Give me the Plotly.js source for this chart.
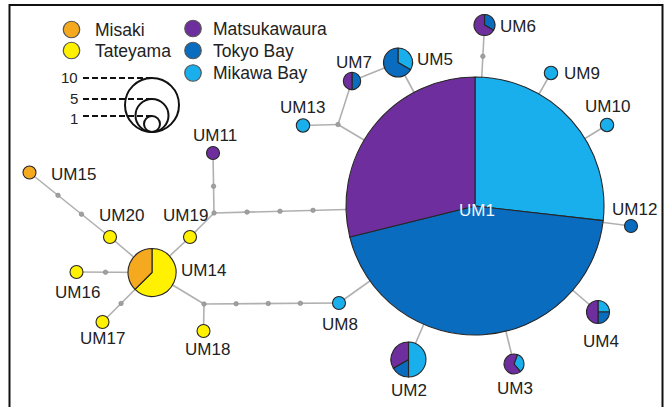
<!DOCTYPE html>
<html><head><meta charset="utf-8">
<script src="https://cdn.plot.ly/plotly-3.0.1.min.js"></script>
<style>html,body{margin:0;padding:0;background:#fff}#chart{width:672px;height:407px}</style>
</head><body><div id="chart"></div>
<script>
// ---------------- DATA ----------------
const populations = ['Mikawa Bay', 'Tokyo Bay', 'Matsukawaura', 'Tateyama', 'Misaki'];
const haplotypes = ['UM1','UM2','UM3','UM4','UM5','UM6','UM7','UM8','UM9','UM10',
                    'UM11','UM12','UM13','UM14','UM15','UM16','UM17','UM18','UM19','UM20'];
// individuals per haplotype for each population
const mikawaBay    = [26, 3, 1, 1, 1, 0, 0, 1, 1, 1, 0, 0, 1, 0, 0, 0, 0, 0, 0, 0];
const tokyoBay     = [43, 1, 0, 1, 2, 1, 1, 0, 0, 0, 0, 1, 0, 0, 0, 0, 0, 0, 0, 0];
const matsukawaura = [28, 2, 2, 2, 0, 2, 1, 0, 0, 0, 1, 0, 0, 0, 0, 0, 0, 0, 0, 0];
const tateyama     = [ 0, 0, 0, 0, 0, 0, 0, 0, 0, 0, 0, 0, 0, 5, 0, 1, 1, 1, 1, 1];
const misaki       = [ 0, 0, 0, 0, 0, 0, 0, 0, 0, 0, 0, 0, 0, 3, 1, 0, 0, 0, 0, 0];
// network edges (mv = median vectors) and number of mutation steps drawn as dots
const edgeFrom  = ['UM15','UM20','UM16','UM17','UM19','UM19','mv1','mv1','UM14','mv2','mv2','UM8','UM13','mv3','mv3','UM7','UM5','UM6','UM9','UM10','UM12','UM4','UM3','UM2'];
const edgeTo    = ['UM20','UM14','UM14','UM14','UM14','mv1','UM11','UM1','mv2','UM18','UM8','UM1','mv3','UM7','UM1','UM5','UM1','UM1','UM1','UM1','UM1','UM1','UM1','UM1'];
const edgeSteps = [2, 0, 1, 1, 0, 0, 1, 3, 0, 0, 3, 0, 0, 0, 0, 0, 0, 1, 0, 0, 0, 0, 0, 0];
const sizeLegendValues = ['10', '5', '1'];

// ---------------- LAYOUT / STYLE ----------------
const W = 672, H = 407;
const popColors = {'Mikawa Bay':'#19AEEC','Tokyo Bay':'#0A6CBF','Matsukawaura':'#6F2E9E','Tateyama':'#FFF100','Misaki':'#F5A91E'};
const nodePos = { // x, y, radius in px
  UM1:[475,206,129], UM2:[408.5,359.5,17.5], UM3:[514,364,10], UM4:[598,312,11.5],
  UM5:[398,62.5,14.5], UM6:[484.5,25,10.5], UM7:[352,81,8.7], UM8:[339,303,6.5],
  UM9:[551,73,6.7], UM10:[607,125,6.7], UM11:[213,153,6.5], UM12:[631,226,6.5],
  UM13:[303,125.5,6.7], UM14:[152,272.5,24], UM15:[29.5,172.5,6.5], UM16:[76.5,272,6.5],
  UM17:[102.5,322,6.5], UM18:[203.5,331,6.5], UM19:[190,237,6.5], UM20:[110,237,6.5],
  mv1:[214,213,0], mv2:[204,304,0], mv3:[338,124.5,0]
};
const rotations = {UM3: 20};
const labelPos = {
  UM1:[477,210,'center'], UM2:[408.5,390,'center'], UM3:[514.5,388,'center'], UM4:[601,341,'center'],
  UM5:[415,59,'left'], UM6:[498,26.5,'left'], UM7:[354,62,'center'], UM8:[340,324,'center'],
  UM9:[562,73,'left'], UM10:[607,106.5,'center'], UM11:[215,135,'center'], UM12:[634,209,'center'],
  UM13:[302,107,'center'], UM14:[179,270,'left'], UM15:[49,174,'left'], UM16:[77,292.5,'center'],
  UM17:[102,338,'center'], UM18:[207,349,'center'], UM19:[185,215,'center'], UM20:[121,215,'center']
};
const FONT = 'Liberation Sans, Arial, sans-serif';
const counts = {'Mikawa Bay':mikawaBay,'Tokyo Bay':tokyoBay,'Matsukawaura':matsukawaura,'Tateyama':tateyama,'Misaki':misaki};

const traces = [];
// edges
const ex = [], ey = [], dx = [], dy = [];
edgeFrom.forEach((a, i) => {
  const p = nodePos[a], q = nodePos[edgeTo[i]];
  ex.push(p[0], q[0], null); ey.push(p[1], q[1], null);
  const L = Math.hypot(q[0]-p[0], q[1]-p[1]);
  const ux = (q[0]-p[0])/L, uy = (q[1]-p[1])/L;
  const s = p[2], e = L - q[2], n = edgeSteps[i];
  for (let k = 1; k <= n; k++) {
    const t = s + (e - s) * k / (n + 1);
    dx.push(p[0] + ux*t); dy.push(p[1] + uy*t);
  }
});
['mv1','mv2','mv3'].forEach(m => { dx.push(nodePos[m][0]); dy.push(nodePos[m][1]); });
traces.push({type:'scatter', mode:'lines', x:ex, y:ey, line:{color:'#b0b0b0', width:1.6}, hoverinfo:'skip', showlegend:false});
traces.push({type:'scatter', mode:'markers', x:dx, y:dy, marker:{size:4.5, color:'#a0a0a0', line:{color:'#888', width:0.6}}, hoverinfo:'skip', showlegend:false});

// legend markers
const legX = [71.5, 71.5, 193, 193, 193], legY = [29.5, 50.5, 28.5, 50.5, 73];
const legPops = ['Misaki','Tateyama','Matsukawaura','Tokyo Bay','Mikawa Bay'];
traces.push({type:'scatter', mode:'markers', x:legX, y:legY,
  marker:{size:16.5, color:legPops.map(p => popColors[p]), line:{color:'#555', width:1.2}},
  hoverinfo:'skip', showlegend:false});

// pies (only populations present in each haplotype)
haplotypes.forEach((h, i) => {
  const [cx, cy, r] = nodePos[h];
  const present = populations.filter(p => counts[p][i] > 0);
  traces.push({
    type:'pie', sort:false, direction:'clockwise', rotation: rotations[h] || 0,
    labels: present, values: present.map(p => counts[p][i]),
    marker:{colors: present.map(p => popColors[p]), line:{color:'#262626', width:1.1}},
    textinfo:'none', hoverinfo:'label+value', showlegend:false,
    domain:{x:[(cx-r)/W, (cx+r)/W], y:[1-(cy+r)/H, 1-(cy-r)/H]}
  });
});

const annotations = [];
haplotypes.forEach(h => {
  const [x, y, anc] = labelPos[h];
  annotations.push({x, y, xref:'x', yref:'y', text:h, showarrow:false, xanchor:anc, yanchor:'middle',
    font:{family:FONT, size:17, color: h === 'UM1' ? '#f2f6ff' : '#222'}});
});
legPops.forEach((p, i) => {
  annotations.push({x: legX[i] + (i < 2 ? 21 : 18), y: legY[i], xref:'x', yref:'y', text:p, showarrow:false,
    xanchor:'left', yanchor:'middle', font:{family:FONT, size:17.5, color:'#222'}});
});
const sizeR = [27, 16.5, 8], sizeCx = 152, sizeBottom = 132;
const sizeTextY = [77.5, 98.5, 118];
const shapes = [];
sizeLegendValues.forEach((v, i) => {
  const r = sizeR[i], cy = sizeBottom - r, top = cy - r;
  shapes.push({type:'circle', xref:'x', yref:'y', x0:sizeCx-r, x1:sizeCx+r, y0:cy-r, y1:cy+r, line:{color:'#111', width:2}});
  shapes.push({type:'line', xref:'x', yref:'y', x0:83, x1:sizeCx, y0:top, y1:top, line:{color:'#111', width:2, dash:'6px,3px'}});
  annotations.push({x:79, y:sizeTextY[i], xref:'x', yref:'y', text:v, showarrow:false, xanchor:'right', yanchor:'middle',
    borderpad:0, font:{family:FONT, size:15, color:'#222'}});
});
shapes.push({type:'rect', xref:'x', yref:'y', x0:9.5, x1:662.5, y0:5, y1:430, line:{color:'#111', width:2}});

Plotly.newPlot('chart', traces, {
  width:W, height:H, margin:{l:0, r:0, t:0, b:0},
  paper_bgcolor:'#fff', plot_bgcolor:'#fff',
  xaxis:{range:[0, W], visible:false, fixedrange:true},
  yaxis:{range:[H, 0], visible:false, fixedrange:true},
  annotations, shapes, showlegend:false
}, {staticPlot:true});
</script></body></html>
